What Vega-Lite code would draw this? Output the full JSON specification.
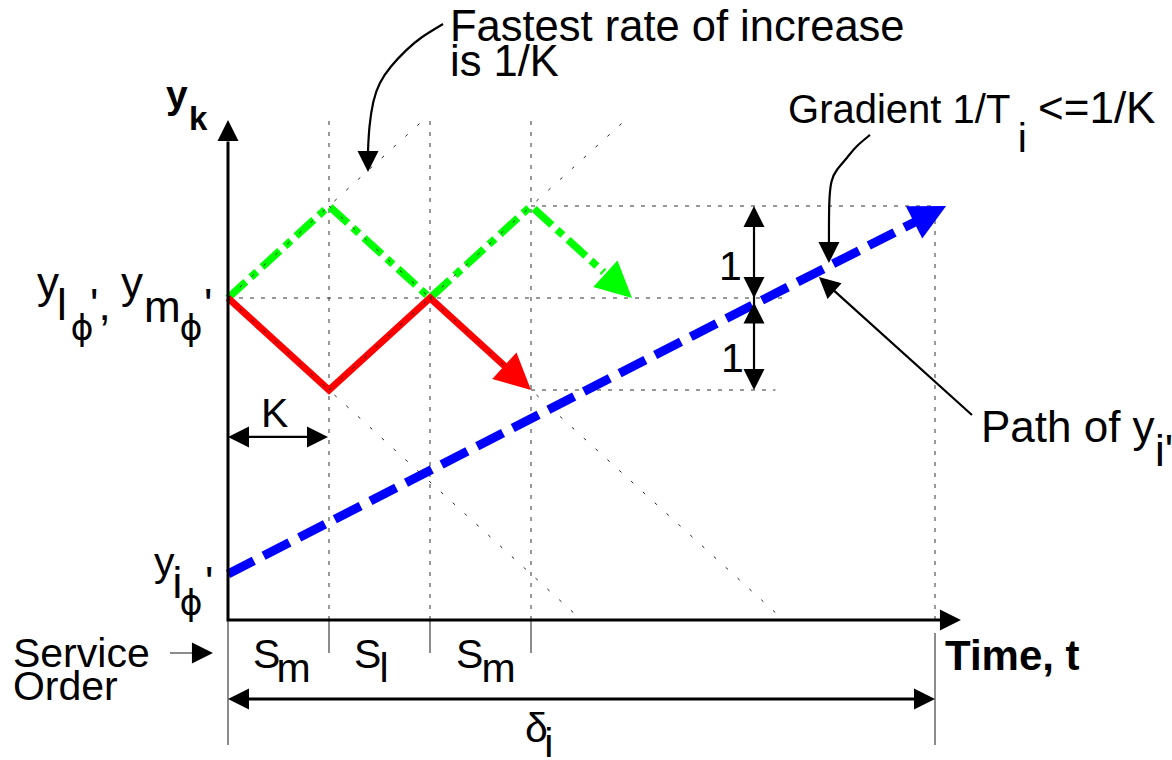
{
  "$schema": "https://vega.github.io/schema/vega-lite/v6.json",
  "width": 1172,
  "height": 760,
  "autosize": {"type": "none"},
  "padding": 0,
  "background": "white",
  "config": {"view": {"stroke": null}},
  "datasets": {
    "grid": [
      {"id": "v1", "seq": 0, "t": 1, "y": 0}, {"id": "v1", "seq": 1, "t": 1, "y": 5.47},
      {"id": "v2", "seq": 0, "t": 2, "y": 0}, {"id": "v2", "seq": 1, "t": 2, "y": 5.47},
      {"id": "v3", "seq": 0, "t": 3, "y": 0}, {"id": "v3", "seq": 1, "t": 3, "y": 5.47},
      {"id": "v4", "seq": 0, "t": 7, "y": 0}, {"id": "v4", "seq": 1, "t": 7, "y": 4.5},
      {"id": "h1", "seq": 0, "t": 0, "y": 3.5}, {"id": "h1", "seq": 1, "t": 5.5, "y": 3.5},
      {"id": "h2", "seq": 0, "t": 3, "y": 4.5}, {"id": "h2", "seq": 1, "t": 7, "y": 4.5},
      {"id": "h3", "seq": 0, "t": 3, "y": 2.5}, {"id": "h3", "seq": 1, "t": 5.42, "y": 2.5}
    ],
    "diag": [
      {"id": "d1", "seq": 0, "t": 0, "y": 3.5}, {"id": "d1", "seq": 1, "t": 1.9, "y": 5.4},
      {"id": "d2", "seq": 0, "t": 2, "y": 3.5}, {"id": "d2", "seq": 1, "t": 3.9, "y": 5.4},
      {"id": "d3", "seq": 0, "t": 0, "y": 3.5}, {"id": "d3", "seq": 1, "t": 3.45, "y": 0.05},
      {"id": "d4", "seq": 0, "t": 2, "y": 3.5}, {"id": "d4", "seq": 1, "t": 5.45, "y": 0.05},
      {"id": "d5", "seq": 0, "t": 1, "y": 4.5}, {"id": "d5", "seq": 1, "t": 2, "y": 3.5},
      {"id": "d6", "seq": 0, "t": 1, "y": 2.5}, {"id": "d6", "seq": 1, "t": 2, "y": 3.5}
    ],
    "gray": [
      {"id": "g0", "seq": 0, "t": 0, "y": 0}, {"id": "g0", "seq": 1, "t": 0, "y": -1.359},
      {"id": "g7", "seq": 0, "t": 7, "y": -0.141}, {"id": "g7", "seq": 1, "t": 7, "y": -1.359},
      {"id": "k1", "seq": 0, "t": 1, "y": 0}, {"id": "k1", "seq": 1, "t": 1, "y": -0.36},
      {"id": "k2", "seq": 0, "t": 2, "y": 0}, {"id": "k2", "seq": 1, "t": 2, "y": -0.36},
      {"id": "k3", "seq": 0, "t": 3, "y": 0}, {"id": "k3", "seq": 1, "t": 3, "y": -0.36},
      {"id": "so", "seq": 0, "t": -0.574, "y": -0.359}, {"id": "so", "seq": 1, "t": -0.17, "y": -0.359}
    ],
    "paths": [
      {"series": "red", "seq": 0, "t": 0, "y": 3.5}, {"series": "red", "seq": 1, "t": 1, "y": 2.5},
      {"series": "red", "seq": 2, "t": 2, "y": 3.5}, {"series": "red", "seq": 3, "t": 2.75, "y": 2.75},
      {"series": "green", "seq": 0, "t": 0, "y": 3.5}, {"series": "green", "seq": 1, "t": 1, "y": 4.5},
      {"series": "green", "seq": 2, "t": 2, "y": 3.5}, {"series": "green", "seq": 3, "t": 3, "y": 4.5},
      {"series": "green", "seq": 4, "t": 3.72, "y": 3.78},
      {"series": "blue", "seq": 0, "t": 0, "y": 0.5}, {"series": "blue", "seq": 1, "t": 6.85, "y": 4.354}
    ],
    "bigHeads": [
      {"series": "red", "t": 3, "y": 2.5, "angle": 132.3},
      {"series": "green", "t": 4, "y": 3.5, "angle": 132.3},
      {"series": "blue", "t": 7.11, "y": 4.5, "angle": 62.9}
    ],
    "axes": [
      {"id": "ax", "seq": 0, "t": 0, "y": 5.2}, {"id": "ax", "seq": 1, "t": 0, "y": 0}, {"id": "ax", "seq": 2, "t": 7.06, "y": 0},
      {"id": "delta", "seq": 0, "t": 0.1, "y": -0.859}, {"id": "delta", "seq": 1, "t": 6.9, "y": -0.859}
    ],
    "thin": [
      {"id": "K", "seq": 0, "t": 0.1, "y": 1.99}, {"id": "K", "seq": 1, "t": 0.89, "y": 1.99},
      {"id": "vv", "seq": 0, "t": 5.208, "y": 4.4}, {"id": "vv", "seq": 1, "t": 5.208, "y": 2.6},
      {"id": "fast", "seq": 0, "t": 2.129, "y": 6.478}, {"id": "fast", "seq": 1, "t": 1.911, "y": 6.337},
      {"id": "fast", "seq": 2, "t": 1.762, "y": 6.196}, {"id": "fast", "seq": 3, "t": 1.604, "y": 6.011},
      {"id": "fast", "seq": 4, "t": 1.495, "y": 5.837}, {"id": "fast", "seq": 5, "t": 1.436, "y": 5.652},
      {"id": "fast", "seq": 6, "t": 1.396, "y": 5.359}, {"id": "fast", "seq": 7, "t": 1.386, "y": 5.09},
      {"id": "grad", "seq": 0, "t": 6.356, "y": 5.272}, {"id": "grad", "seq": 1, "t": 6.208, "y": 5.141},
      {"id": "grad", "seq": 2, "t": 6.139, "y": 5.033}, {"id": "grad", "seq": 3, "t": 6.02, "y": 4.891},
      {"id": "grad", "seq": 4, "t": 5.97, "y": 4.783}, {"id": "grad", "seq": 5, "t": 5.95, "y": 4.565},
      {"id": "grad", "seq": 6, "t": 5.95, "y": 4.109},
      {"id": "path", "seq": 0, "t": 7.366, "y": 2.228}, {"id": "path", "seq": 1, "t": 5.97, "y": 3.61}
    ],
    "heads": [
      {"t": 0, "y": 5.435, "angle": 0},
      {"t": 7.257, "y": 0, "angle": 90},
      {"t": 0, "y": 1.99, "angle": 270},
      {"t": 0.99, "y": 1.99, "angle": 90},
      {"t": 0, "y": -0.859, "angle": 270},
      {"t": 7.0, "y": -0.859, "angle": 90},
      {"t": 5.208, "y": 4.5, "angle": 0},
      {"t": 5.208, "y": 3.5, "angle": 180},
      {"t": 5.208, "y": 3.45, "angle": 0},
      {"t": 5.208, "y": 2.5, "angle": 180},
      {"t": -0.149, "y": -0.359, "angle": 90},
      {"t": 1.386, "y": 4.87, "angle": 180},
      {"t": 5.95, "y": 3.88, "angle": 180},
      {"t": 5.851, "y": 3.728, "angle": 312}
    ],
    "texts": [
      {"cls": "fast", "label": "Fastest rate of increase", "t": 2.198, "y": 6.293},
      {"cls": "fast", "label": "is 1/K", "t": 2.198, "y": 5.913},
      {"cls": "grad", "label": "Gradient 1/T", "t": 5.545, "y": 5.402},
      {"cls": "lek", "label": "<=1/K", "t": 8.02, "y": 5.402},
      {"cls": "main", "label": "1", "t": 4.861, "y": 3.696},
      {"cls": "main", "label": "1", "t": 4.881, "y": 2.696},
      {"cls": "main", "label": "K", "t": 0.327, "y": 2.098},
      {"cls": "main", "label": "Service", "t": -2.129, "y": -0.511},
      {"cls": "main", "label": "Order", "t": -2.129, "y": -0.87},
      {"cls": "main", "label": "S", "t": 0.248, "y": -0.522},
      {"cls": "main", "label": "m", "t": 0.48, "y": -0.674},
      {"cls": "main", "label": "S", "t": 1.248, "y": -0.522},
      {"cls": "main", "label": "l", "t": 1.5, "y": -0.674},
      {"cls": "main", "label": "S", "t": 2.257, "y": -0.522},
      {"cls": "main", "label": "m", "t": 2.51, "y": -0.674},
      {"cls": "main", "label": "δ", "t": 2.94, "y": -1.326},
      {"cls": "main", "label": "i", "t": 3.13, "y": -1.49},
      {"cls": "main", "label": "i", "t": 7.82, "y": 5.087},
      {"cls": "main", "label": "y", "t": -0.733, "y": 0.478},
      {"cls": "big", "label": "Path of y", "t": 7.455, "y": 1.935},
      {"cls": "big", "label": "i'", "t": 9.178, "y": 1.674},
      {"cls": "big", "label": "y", "t": -1.891, "y": 3.5},
      {"cls": "big", "label": "l", "t": -1.693, "y": 3.261},
      {"cls": "big", "label": "',", "t": -1.366, "y": 3.261},
      {"cls": "big", "label": "y", "t": -1.059, "y": 3.5},
      {"cls": "big", "label": "m", "t": -0.832, "y": 3.239},
      {"cls": "big", "label": "'", "t": -0.238, "y": 3.261},
      {"cls": "big", "label": "i", "t": -0.55, "y": 0.239},
      {"cls": "big", "label": "'", "t": -0.228, "y": 0.239},
      {"cls": "phi", "label": "ϕ", "t": -1.56, "y": 3.043},
      {"cls": "phi", "label": "ϕ", "t": -0.48, "y": 3.043},
      {"cls": "phi", "label": "ϕ", "t": -0.48, "y": 0.054},
      {"cls": "bold", "label": "Time, t", "t": 7.099, "y": -0.543},
      {"cls": "boldy", "label": "y", "t": -0.614, "y": 5.565},
      {"cls": "boldk", "label": "k", "t": -0.386, "y": 5.326}
    ]
  },
  "encoding": {
    "x": {"field": "t", "type": "quantitative", "scale": {"domain": [-2.2574, 9.3465], "nice": false, "zero": false}, "axis": null},
    "y": {"field": "y", "type": "quantitative", "scale": {"domain": [-1.5217, 6.7391], "nice": false, "zero": false}, "axis": null}
  },
  "layer": [
    {
      "data": {"name": "grid"},
      "mark": {"type": "line", "stroke": "#333333", "strokeWidth": 1, "strokeDash": [4, 7]},
      "encoding": {"detail": {"field": "id"}, "order": {"field": "seq"}}
    },
    {
      "data": {"name": "gray"},
      "mark": {"type": "line", "stroke": "#666666", "strokeWidth": 1.5},
      "encoding": {"detail": {"field": "id"}, "order": {"field": "seq"}}
    },
    {
      "data": {"name": "paths"},
      "transform": [{"filter": "datum.series == 'blue'"}],
      "mark": {"type": "line", "stroke": "#0000ff", "strokeWidth": 9, "strokeDash": [29, 11]},
      "encoding": {"order": {"field": "seq"}}
    },
    {
      "data": {"name": "paths"},
      "transform": [{"filter": "datum.series == 'green'"}],
      "mark": {"type": "line", "stroke": "#00ff00", "strokeWidth": 7.5, "strokeDash": [24, 7, 8, 7]},
      "encoding": {"order": {"field": "seq"}}
    },
    {
      "data": {"name": "paths"},
      "transform": [{"filter": "datum.series == 'red'"}],
      "mark": {"type": "line", "stroke": "#ff0000", "strokeWidth": 7, "strokeJoin": "miter"},
      "encoding": {"order": {"field": "seq"}}
    },
    {
      "data": {"name": "diag"},
      "mark": {"type": "line", "stroke": "#222222", "strokeWidth": 1, "strokeDash": [3, 13]},
      "encoding": {"detail": {"field": "id"}, "order": {"field": "seq"}}
    },
    {
      "data": {"name": "bigHeads"},
      "mark": {"type": "point", "shape": "M0,0L-0.5,1L0.5,1Z", "size": 5184, "filled": true, "opacity": 1, "strokeWidth": 0},
      "encoding": {
        "color": {"field": "series", "type": "nominal", "scale": {"domain": ["red", "green", "blue"], "range": ["#ff0000", "#00ff00", "#0000ff"]}, "legend": null},
        "angle": {"field": "angle", "type": "quantitative", "scale": null}
      }
    },
    {
      "data": {"name": "axes"},
      "mark": {"type": "line", "stroke": "black", "strokeWidth": 3, "strokeJoin": "miter"},
      "encoding": {"detail": {"field": "id"}, "order": {"field": "seq"}}
    },
    {
      "data": {"name": "thin"},
      "mark": {"type": "line", "stroke": "black", "strokeWidth": 2.2, "interpolate": "basis"},
      "encoding": {"detail": {"field": "id"}, "order": {"field": "seq"}}
    },
    {
      "data": {"name": "heads"},
      "mark": {"type": "point", "shape": "M0,0L-0.5,1L0.5,1Z", "size": 1764, "filled": true, "opacity": 1, "strokeWidth": 0, "color": "black"},
      "encoding": {"angle": {"field": "angle", "type": "quantitative", "scale": null}}
    },
    {
      "data": {"name": "texts"},
      "transform": [{"filter": "datum.cls == 'main'"}],
      "mark": {"type": "text", "font": "Liberation Sans", "fontSize": 41, "align": "left", "baseline": "alphabetic", "color": "black"},
      "encoding": {"text": {"field": "label", "type": "nominal"}}
    },
    {
      "data": {"name": "texts"},
      "transform": [{"filter": "datum.cls == 'fast'"}],
      "mark": {"type": "text", "font": "Liberation Sans", "fontSize": 43.5, "align": "left", "baseline": "alphabetic", "color": "black"},
      "encoding": {"text": {"field": "label", "type": "nominal"}}
    },
    {
      "data": {"name": "texts"},
      "transform": [{"filter": "datum.cls == 'grad'"}],
      "mark": {"type": "text", "font": "Liberation Sans", "fontSize": 40, "align": "left", "baseline": "alphabetic", "color": "black"},
      "encoding": {"text": {"field": "label", "type": "nominal"}}
    },
    {
      "data": {"name": "texts"},
      "transform": [{"filter": "datum.cls == 'lek'"}],
      "mark": {"type": "text", "font": "Liberation Sans", "fontSize": 44, "align": "left", "baseline": "alphabetic", "color": "black"},
      "encoding": {"text": {"field": "label", "type": "nominal"}}
    },
    {
      "data": {"name": "texts"},
      "transform": [{"filter": "datum.cls == 'big'"}],
      "mark": {"type": "text", "font": "Liberation Sans", "fontSize": 44, "align": "left", "baseline": "alphabetic", "color": "black"},
      "encoding": {"text": {"field": "label", "type": "nominal"}}
    },
    {
      "data": {"name": "texts"},
      "transform": [{"filter": "datum.cls == 'phi'"}],
      "mark": {"type": "text", "font": "DejaVu Sans", "fontSize": 35, "align": "left", "baseline": "alphabetic", "color": "black"},
      "encoding": {"text": {"field": "label", "type": "nominal"}}
    },
    {
      "data": {"name": "texts"},
      "transform": [{"filter": "datum.cls == 'bold'"}],
      "mark": {"type": "text", "font": "Liberation Sans", "fontSize": 42, "fontWeight": "bold", "align": "left", "baseline": "alphabetic", "color": "black"},
      "encoding": {"text": {"field": "label", "type": "nominal"}}
    },
    {
      "data": {"name": "texts"},
      "transform": [{"filter": "datum.cls == 'boldy'"}],
      "mark": {"type": "text", "font": "Liberation Sans", "fontSize": 39, "fontWeight": "bold", "align": "left", "baseline": "alphabetic", "color": "black"},
      "encoding": {"text": {"field": "label", "type": "nominal"}}
    },
    {
      "data": {"name": "texts"},
      "transform": [{"filter": "datum.cls == 'boldk'"}],
      "mark": {"type": "text", "font": "Liberation Sans", "fontSize": 33, "fontWeight": "bold", "align": "left", "baseline": "alphabetic", "color": "black"},
      "encoding": {"text": {"field": "label", "type": "nominal"}}
    }
  ]
}
